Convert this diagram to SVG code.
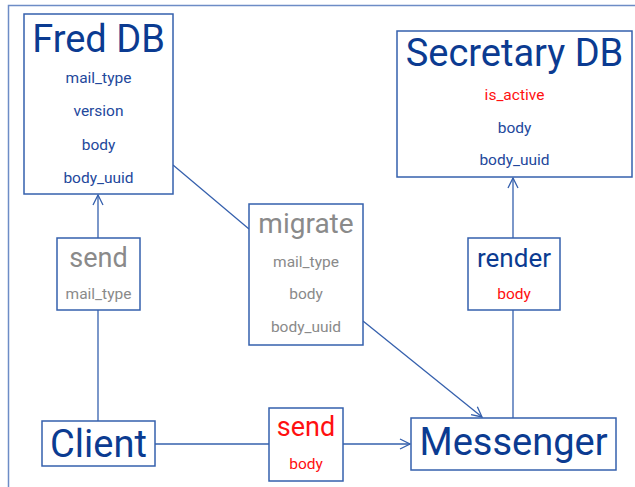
<svg xmlns="http://www.w3.org/2000/svg" width="635" height="487" viewBox="0 0 635 487">
<style>
.box{fill:#fff;stroke:#3560ad;stroke-width:1.5}
.t{font-family:Roboto,"Liberation Sans",sans-serif;text-anchor:middle;dominant-baseline:central}
.title{fill:#0b3b91}
.f{fill:#23489c;font-size:15.5px}
.g{fill:#8a8a8a}
.r{fill:#ff1010}
.c{stroke:#3560ad;stroke-width:1.3;fill:none}
</style>
<defs>
<marker id="arr" viewBox="0 0 12 12" refX="11" refY="6" markerWidth="12" markerHeight="12" markerUnits="userSpaceOnUse" orient="auto">
<path d="M1,1 L11,6 L1,11" fill="none" stroke="#3560ad" stroke-width="1.3"/>
</marker>
</defs>
<rect x="8.5" y="5.5" width="640" height="500" fill="none" stroke="#6d8cc6" stroke-width="1.5"/>
<g id="connectors">
<line class="c" x1="98" y1="421" x2="98" y2="310"/>
<line class="c" x1="98" y1="238" x2="98" y2="195" marker-end="url(#arr)"/>
<line class="c" x1="155" y1="444" x2="269" y2="444"/>
<line class="c" x1="343" y1="444" x2="410" y2="444" marker-end="url(#arr)"/>
<line class="c" x1="173" y1="165" x2="249" y2="229"/>
<line class="c" x1="363" y1="321" x2="482" y2="417" marker-end="url(#arr)"/>
<line class="c" x1="513" y1="418" x2="513" y2="310"/>
<line class="c" x1="513" y1="238" x2="513" y2="178" marker-end="url(#arr)"/>
</g>
<g id="fred-db">
<rect class="box" x="24" y="14" width="149" height="180"/>
<text class="t title" x="98.5" y="39" font-size="38">Fred DB</text>
<text class="t f" x="98.5" y="78">mail_type</text>
<text class="t f" x="98.5" y="111">version</text>
<text class="t f" x="98.5" y="145">body</text>
<text class="t f" x="98.5" y="178">body_uuid</text>
</g>
<g id="secretary-db">
<rect class="box" x="397" y="31" width="235" height="146"/>
<text class="t title" x="514.5" y="53" font-size="38">Secretary DB</text>
<text class="t f r" x="514.5" y="95">is_active</text>
<text class="t f" x="514.5" y="128">body</text>
<text class="t f" x="514.5" y="160">body_uuid</text>
</g>
<g id="send-mail-type">
<rect class="box" x="57" y="238" width="83" height="72"/>
<text class="t g" x="98.5" y="258" font-size="27">send</text>
<text class="t f g" x="98.5" y="294">mail_type</text>
</g>
<g id="migrate">
<rect class="box" x="249" y="204" width="114" height="141"/>
<text class="t g" x="306" y="223" font-size="28">migrate</text>
<text class="t f g" x="306" y="262">mail_type</text>
<text class="t f g" x="306" y="294">body</text>
<text class="t f g" x="306" y="327">body_uuid</text>
</g>
<g id="render">
<rect class="box" x="468" y="238" width="92" height="72"/>
<text class="t title" x="514" y="258" font-size="26">render</text>
<text class="t f r" x="514" y="294">body</text>
</g>
<g id="client">
<rect class="box" x="42" y="421" width="113" height="45"/>
<text class="t title" x="98.5" y="444" font-size="38">Client</text>
</g>
<g id="send-body">
<rect class="box" x="269" y="408" width="74" height="73"/>
<text class="t r" x="306" y="427" font-size="27">send</text>
<text class="t f r" x="306" y="464">body</text>
</g>
<g id="messenger">
<rect class="box" x="411" y="418" width="205" height="52"/>
<text class="t title" x="513.5" y="442" font-size="38">Messenger</text>
</g>
</svg>
